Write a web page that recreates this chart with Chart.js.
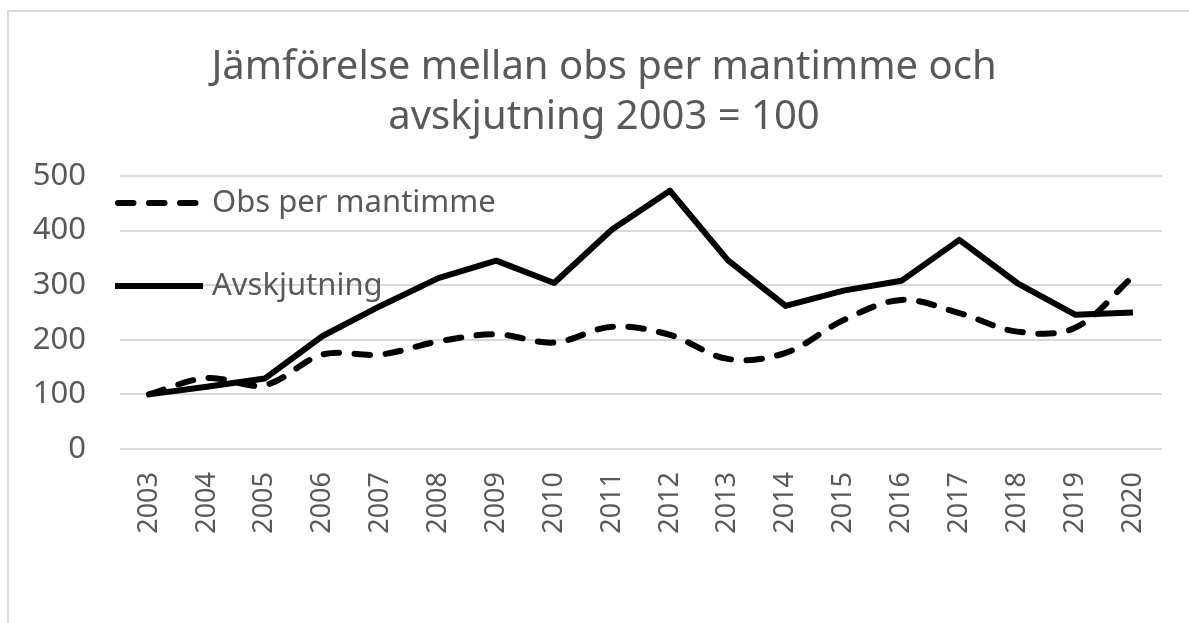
<!DOCTYPE html>
<html>
<head>
<meta charset="utf-8">
<script src="https://cdn.jsdelivr.net/npm/chart.js@4.4.1/dist/chart.umd.min.js"></script>
<style>
    body { margin: 0; background: #fff; overflow: hidden; }
    #wrap { position: relative; width: 1189px; height: 623px; }
    #wrap canvas { position: absolute; left: 0; top: 0; }
    #frame { position: absolute; left: 7px; top: 10px; width: 1300px; height: 700px;
             border: 2px solid #d9d9d9; box-sizing: border-box; pointer-events: none; }
</style>
</head>
<body>
<div id="wrap">
    <canvas id="chart" width="1189" height="623"></canvas>
    <div id="frame"></div>
</div>
<script>
// data (2003 = 100)
const years = ['2003', '2004', '2005', '2006', '2007', '2008', '2009', '2010', '2011',
               '2012', '2013', '2014', '2015', '2016', '2017', '2018', '2019', '2020'];
const obsPerMantimme = [100, 130, 117, 173, 173, 197, 210, 195, 224, 209, 165, 176, 236, 273, 249, 215, 222, 316];
const avskjutning = [100, 114, 129, 207, 262, 313, 345, 304, 402, 473, 346, 262, 290, 308, 383, 304, 246, 250];
const yTicks = [0, 100, 200, 300, 400, 500];

const textColor = '#595959';
const fontFamily = '"Noto Sans", "Open Sans", sans-serif';

// legend drawn inside the plot, like the original
const insideLegend = {
    id: 'insideLegend',
    afterLayout(chart, args, opts) {
        // the original title is centred a bit right of the canvas middle
        if (chart.titleBlock) chart.titleBlock.left = opts.titleLeft;
    },
    afterDatasetsDraw(chart, args, opts) {
        let ctx = chart.ctx;
        ctx.save();
        chart.data.datasets.forEach((ds, i) => {
            let y = opts.top + i * opts.gap;
            ctx.beginPath();
            ctx.setLineDash(ds.borderDash || []);
            ctx.lineWidth = ds.borderWidth;
            ctx.lineCap = ds.borderCapStyle || 'butt';
            ctx.strokeStyle = ds.borderColor;
            let inset = ds.borderCapStyle === 'round' ? ds.borderWidth / 2 : 0;
            ctx.moveTo(opts.x + inset, y);
            ctx.lineTo(opts.x + opts.lineLength - inset, y);
            ctx.stroke();
            ctx.setLineDash([]);
            ctx.fillStyle = opts.color;
            ctx.font = opts.font;
            ctx.textBaseline = 'middle';
            ctx.textAlign = 'left';
            ctx.fillText(ds.label, opts.x + opts.lineLength + opts.textGap, y);
        });
        ctx.restore();
    }
};

let config = {
    type: 'line',
    data: {
        labels: years,
        datasets: [
            {
                label: 'Obs per mantimme',
                data: obsPerMantimme,
                borderColor: '#000',
                backgroundColor: '#000',
                borderWidth: 6,
                borderDash: [15.5, 15.5],
                borderCapStyle: 'round',
                borderJoinStyle: 'round',
                tension: 0.35,
                pointRadius: 0,
                fill: false
            },
            {
                label: 'Avskjutning',
                data: avskjutning,
                borderColor: '#000',
                backgroundColor: '#000',
                borderWidth: 6,
                borderCapStyle: 'butt',
                borderJoinStyle: 'round',
                tension: 0,
                pointRadius: 0,
                fill: false
            }
        ]
    },
    options: {
        responsive: false,
        animation: false,
        devicePixelRatio: 1,
        layout: { padding: { top: 10, right: 24, left: 0, bottom: 0 } },
        plugins: {
            legend: { display: false },
            tooltip: { enabled: false },
            title: {
                display: true,
                text: ['Jämförelse mellan obs per mantimme och', 'avskjutning 2003 = 100'],
                color: textColor,
                font: { family: fontFamily, size: 40, weight: 'normal', lineHeight: 1.25 },
                padding: { top: 33, bottom: 33 }
            },
            insideLegend: {
                x: 115, top: 203, gap: 83, lineLength: 88, textGap: 9,
                titleLeft: 43,
                color: textColor,
                font: '31px ' + fontFamily
            }
        },
        scales: {
            x: {
                offset: true,
                grid: { display: false, drawTicks: false },
                border: { display: false },
                ticks: {
                    color: textColor,
                    font: { family: fontFamily, size: 27 },
                    minRotation: 90, maxRotation: 90,
                    padding: 23,
                    autoSkip: false
                },
                afterFit: (s) => { s.height = 174; }
            },
            y: {
                min: 0, max: 500,
                afterBuildTicks: (s) => { s.ticks = yTicks.map(v => ({ value: v })); },
                grid: { color: '#d9d9d9', lineWidth: 2, drawTicks: false },
                border: { display: false },
                ticks: {
                    color: textColor,
                    font: { family: fontFamily, size: 31 },
                    padding: 34
                },
                afterFit: (s) => { s.width = 120; }
            }
        }
    },
    plugins: [insideLegend]
};

let canvas = document.querySelector('#chart');
let chart = new Chart(canvas, config);
</script>
</body>
</html>
